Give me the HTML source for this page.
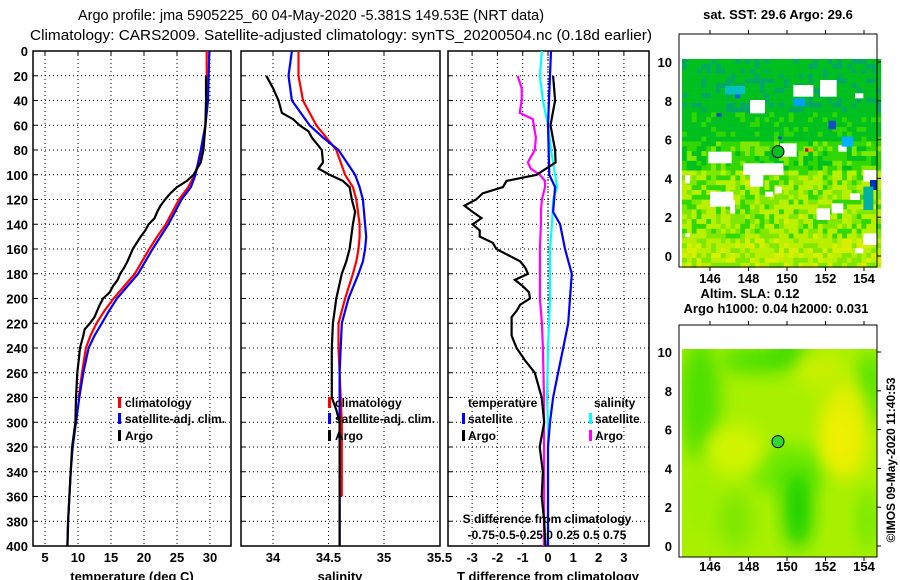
<!DOCTYPE html>
<html><head><meta charset="utf-8"><style>
html,body{margin:0;padding:0;background:#fff;}
svg{display:block;font-family:"Liberation Sans",sans-serif;}
.t{font-weight:bold;font-size:13px;fill:#000;}
.s{font-weight:bold;font-size:12px;fill:#000;}
</style></head><body>
<svg id="fig" width="900" height="580" viewBox="0 0 900 580" xmlns="http://www.w3.org/2000/svg">
<text x="311" y="20" text-anchor="middle" style="font-size:14.5px" textLength="466" lengthAdjust="spacingAndGlyphs">Argo profile: jma 5905225_60 04-May-2020 -5.381S 149.53E (NRT data)</text>
<text x="341" y="40" text-anchor="middle" style="font-size:14.5px" textLength="622" lengthAdjust="spacingAndGlyphs">Climatology: CARS2009. Satellite-adjusted climatology: synTS_20200504.nc (0.18d earlier)</text>
<g id="plots"></g>
<g id="maps"></g>
</svg>
<script>
// ---------- data ----------
const depthT = [0,20,40,60,80,100,110,120,130,140,150,160,170,180,190,200,210,220,230,240,260,280,300,320,340,360,380,400];
const tempClim = [29.5,29.5,29.5,29.3,28.8,27.7,26.7,25.3,24.3,23.3,22.0,20.8,19.7,18.6,17.0,15.4,14.0,12.8,11.9,11.2,10.6,10.1,9.7,9.2,8.9,8.7,8.5,8.4];
const tempSat  = [29.9,29.8,29.7,29.3,28.6,27.8,27.1,25.7,24.7,23.7,22.5,21.3,20.2,19.1,17.5,15.9,14.7,13.6,12.5,11.6,10.8,10.2,9.7,9.2,8.9,8.7,8.5,8.4];
const depthA = [20,40,60,80,90,100,105,110,115,120,125,130,135,140,145,150,155,160,170,175,180,185,190,195,200,205,210,215,220,225,230,240,250,260,280,300,320,340,360,380,400];
const tempArgo = [29.4,29.4,29.3,29.0,28.6,27.5,26.5,25.0,24.0,23.2,22.5,22.0,21.6,20.7,20.2,19.5,18.9,18.3,17.5,17.0,16.4,16.0,15.3,14.8,13.8,13.3,12.9,12.5,11.8,11.0,10.8,10.3,10.1,9.9,9.7,9.6,9.1,8.9,8.7,8.5,8.4];
const depthS = [0,20,40,60,70,80,100,110,120,140,150,160,170,180,200,220,240,260,300,360,400];
const salClim = [34.23,34.23,34.27,34.39,34.48,34.57,34.65,34.72,34.75,34.78,34.78,34.77,34.75,34.72,34.65,34.59,34.59,34.60,34.62,34.62,34.62];
const salSat  = [34.17,34.14,34.17,34.33,34.45,34.59,34.74,34.78,34.81,34.83,34.84,34.83,34.81,34.77,34.68,34.62,34.61,34.60,34.60,34.60,34.60];
const depthSA = [20,30,40,50,55,60,65,70,80,90,95,100,105,110,120,130,140,160,170,180,200,220,240,280,290,300,400];
const salArgo = [33.94,34.00,34.05,34.08,34.18,34.24,34.32,34.35,34.44,34.45,34.41,34.51,34.63,34.69,34.71,34.74,34.72,34.69,34.66,34.62,34.57,34.54,34.53,34.53,34.57,34.60,34.60];
const dTsatDepth = [0,20,60,100,110,130,140,160,180,200,220,240,260,280,300,320,400];
const dTsat = [0.12,0.08,0.0,0.05,0.28,0.2,0.48,0.67,0.94,0.87,0.8,0.6,0.4,0.2,0.08,0.0,0.0];
const dTargo = [0.2,0.28,0.1,0.28,0.3,-0.45,-1.64,-1.78,-2.58,-2.84,-3.3,-2.98,-2.63,-2.98,-2.7,-2.7,-2.18,-2.04,-1.1,-0.9,-0.79,-1.31,-1.0,-0.75,-0.71,-1.1,-1.24,-1.44,-1.44,-1.44,-1.44,-1.24,-0.91,-0.52,-0.25,-0.15,-0.33,-0.2,-0.25,-0.15,-0.1];
const dSsatDepth = [0,20,40,60,80,100,110,120,140,160,200,240,280,300,400];
const dSsat = [-0.06,-0.08,-0.05,0,0.03,0.07,0.09,0.05,0.04,0.02,0.02,0.0,-0.01,0.0,0.0];
const dSargo = [-0.3,-0.26,-0.26,-0.28,-0.15,-0.14,-0.13,-0.12,-0.13,-0.2,-0.17,-0.08,-0.03,-0.03,-0.06,-0.07,-0.07,-0.08,-0.08,-0.08,-0.08,-0.06,-0.05,-0.04,-0.04,-0.04,-0.04];
const depthTicks = [0,20,40,60,80,100,120,140,160,180,200,220,240,260,280,300,320,340,360,380,400];
const tTicks = [5,10,15,20,25,30];
const sTicks = [34,34.5,35,35.5];
const dTicks = [-3,-2,-1,0,1,2,3];

const NS='http://www.w3.org/2000/svg';
function mk(tag,attrs,parent){const e=document.createElementNS(NS,tag);for(const k in attrs)e.setAttribute(k,attrs[k]);parent.appendChild(e);return e;}
const plots=document.getElementById('plots');
const Y0=51,Y1=546;
const y=d=>Y0+d*(Y1-Y0)/400;
const xT=v=>45+(v-5)*6.6;
const xS=v=>273+(v-34)*111;
const xD=v=>548+v*25.3;
const xDS=v=>548+v*4*25.3;

function panel(x0,x1,name,xticks,xf,labels){
  const g=mk('g',{},plots);
  
  
  depthTicks.forEach(d=>{if(d>0&&d<400){const l=mk('line',{x1:x0,x2:x1,y1:y(d),y2:y(d),stroke:'#000','stroke-width':1,'stroke-dasharray':'1 3'},g);
  
  }
  const tk=mk('line',{x1:x0,x2:x0+4,y1:y(d),y2:y(d),stroke:'#000'},g);
  
  });
  xticks.forEach((v,i)=>{const xx=xf(v);if(xx>x0+1&&xx<x1-1){const l=mk('line',{x1:xx,x2:xx,y1:Y0,y2:Y1,stroke:'#000','stroke-dasharray':'1 3'},g);
  
  
  mk('line',{x1:xx,x2:xx,y1:Y0,y2:Y0+4,stroke:'#000'},g);}
  const t=mk('text',{x:xx,y:562,'text-anchor':'middle',class:'t'},g);t.textContent=labels?labels[i]:v;
  
  });
  const r=mk('rect',{x:x0,y:Y0,width:x1-x0,height:Y1-Y0,fill:'none',stroke:'#000','stroke-width':1.5},g);
  
  
  return g;
}
function line(g,ds,vs,xf,color,name){
  const pts=ds.map((d,i)=>xf(vs[i]).toFixed(1)+','+y(d).toFixed(1)).join(' ');
  const p=mk('polyline',{points:pts,fill:'none',stroke:color,'stroke-width':2.2},g);
  
  
}
function txt(g,x,yy,s,cls,name,anchor){const t=mk('text',{x:x,y:yy,class:cls||'s','text-anchor':anchor||'start'},g);t.textContent=s;

return t;}
function legBar(g,x,yy,c){const r=mk('rect',{x:x,y:yy-10,width:3,height:11,fill:c},g);

}

// y labels
depthTicks.forEach(d=>{txt(plots,28,y(d)+5,String(d),'t','y-tick-label','end');});

// panel 1
const g1=panel(33,231,'temperature-panel',tTicks,xT);
const tfil=depthT.filter(d=>d<=290);
line(g1,tfil,tempClim.slice(0,tfil.length),xT,'#f00','climatology-temp-line');
line(g1,depthT,tempSat,xT,'#00f','satellite-temp-line');
line(g1,depthA,tempArgo,xT,'#000','argo-temp-line');
txt(g1,132,581,'temperature (deg C)','t','x-axis-title','middle');
[['#f00','climatology',407],['#00f','satellite-adj. clim.',423],['#000','Argo',440]].forEach(a=>{legBar(g1,118,a[2],a[0]);txt(g1,125,a[2],a[1],'s','legend-entry');});

// panel 2
const g2=panel(241,440,'salinity-panel',sTicks,xS,['34','34.5','35','35.5']);
const sfil=depthS.filter(d=>d<=360);
line(g2,sfil,salClim.slice(0,sfil.length),xS,'#f00','climatology-salinity-line');
line(g2,depthS,salSat,xS,'#00f','satellite-salinity-line');
line(g2,depthSA,salArgo,xS,'#000','argo-salinity-line');
txt(g2,340,581,'salinity','t','x-axis-title','middle');
[['#f00','climatology',407],['#00f','satellite-adj. clim.',423],['#000','Argo',440]].forEach(a=>{legBar(g2,328,a[2],a[0]);txt(g2,335,a[2],a[1],'s','legend-entry');});

// panel 3
const g3=panel(448,649,'difference-panel',dTicks,xD);
mk('line',{x1:548,x2:548,y1:Y0,y2:Y1,stroke:'#000','stroke-dasharray':'1 2'},g3);
line(g3,depthSA,dSargo,xDS,'#f0f','argo-salinity-diff-line');
line(g3,dSsatDepth,dSsat,xDS,'#0ff','satellite-salinity-diff-line');
line(g3,dTsatDepth,dTsat,xD,'#00f','satellite-temp-diff-line');
line(g3,depthA,dTargo,xD,'#000','argo-temp-diff-line');
txt(g3,548,581,'T difference from climatology','t','x-axis-title','middle');
txt(g3,468,407,'temperature','s','legend-title');
txt(g3,594,407,'salinity','s','legend-title');
legBar(g3,462,423,'#00f');txt(g3,468,423,'satellite','s','legend-entry');
legBar(g3,462,440,'#000');txt(g3,468,440,'Argo','s','legend-entry');
legBar(g3,589,423,'#0ff');txt(g3,595,423,'satellite','s','legend-entry');
legBar(g3,589,440,'#f0f');txt(g3,595,440,'Argo','s','legend-entry');
txt(g3,547,523,'S difference from climatology','s','s-axis-title','middle');
txt(g3,547,539,'-0.75-0.5-0.25  0   0.25 0.5 0.75','s','s-axis-labels','middle').setAttribute('xml:space','preserve');

// ---------- maps ----------
const maps=document.getElementById('maps');
const lonTicks=[146,148,150,152,154];
const latTicks=[0,2,4,6,8,10];
const mx=l=>710+(l-146)*19.25;
function mapFrame(lat0y,name){
  const g=mk('g',{},maps);
  
  
  const my=la=>lat0y-la*19.4;
  return {g,my};
}
function hash(i,j){let h=(i*374761393+j*668265263)>>>0;h=((h^(h>>>13))*1274126177)>>>0;return (h&1023)/1023;}
const pal=[[0,'#0050d0'],[0.12,'#00b0e0'],[0.2,'#00a860'],[0.27,'#00c020'],[0.4,'#30d800'],[0.5,'#80e800'],[0.6,'#b8f000'],[0.7,'#d8f000'],[0.8,'#f0d800'],[0.9,'#f0a000']];
function col(v){let c=pal[0][1];for(const p of pal)if(v>=p[0])c=p[1];return c;}

// top map
const A=mapFrame(256,'sst-map');
(function(){
  const g=A.g,my=A.my;
  const cell=4.85;
  for(let i=0;i<41;i++)for(let j=0;j<43;j++){
    const x=682+i*cell,yy=59+j*cell;const lat=(256-yy)/19.4;
    let b=lat>7.5?0.31:lat>6?0.36:lat>4.5?0.47:lat>1?0.6:0.68;
    const amp=lat>6?0.16:0.26;
    const v=b+(hash(i,j)-0.5)*amp;
    mk('rect',{x:x.toFixed(2),y:yy.toFixed(2),width:cell+0.3,height:cell+0.3,fill:col(v)},g);
  }
  const whites=[[430,255,60,35],[510,240,50,50],[300,300,45,40],[615,280,25,15],[390,430,50,40],[175,455,70,35],[280,490,120,35],[300,520,40,40],[105,525,15,25],[180,575,70,45],[345,575,25,15],[240,600,15,40],[375,560,20,20],[500,625,40,35],[600,580,30,20],[640,510,40,35],[545,610,35,30],[565,435,25,20],[640,700,40,35],[615,745,25,15],[105,700,15,10]];
  whites.forEach(w=>{const r=mk('rect',{x:w[0]/3+650,y:w[1]/3,width:w[2]/3,height:w[3]/3,fill:'#fff'},g);
  
  });
  const spots=[[255,280,15,15,'#2060e0'],[535,362,23,26,'#1050c0'],[660,540,20,30,'#0030c0'],[430,295,35,23,'#00a0ff'],[225,258,60,25,'#00c0c0'],[640,560,30,70,'#00b0a0'],[575,410,35,30,'#00b0ff'],[200,340,15,10,'#1040c0'],[385,410,10,8,'#1040d0'],[465,445,10,10,'#c01000'],[475,445,15,10,'#ffa000']];
  spots.forEach(w=>mk('rect',{x:w[0]/3+650,y:w[1]/3,width:w[2]/3,height:w[3]/3,fill:w[4]},g));
  const c=mk('circle',{cx:mx(149.53),cy:my(5.38),r:6,fill:'#00c020',stroke:'#000','stroke-width':1},g);
  
  
  axes(g,34,267,my,283);
  txt(g,778,19,'sat. SST: 29.6 Argo: 29.6','t','map-title','middle');
})();

// bottom map
const B=mapFrame(546,'sla-map');
(function(){
  const g=B.g,my=B.my;
  const defs=mk('defs',{},g);
  const f=mk('filter',{id:'bl',x:'-50%',y:'-50%',width:'200%',height:'200%'},defs);
  mk('feGaussianBlur',{stdDeviation:9},f);
  const cp=mk('clipPath',{id:'cp'},defs);
  mk('rect',{x:682,y:349,width:195,height:208},cp);
  const inner=mk('g',{'clip-path':'url(#cp)'},g);
  mk('rect',{x:682,y:349,width:195,height:208,fill:'#a8f000'},inner);
  const blobs=[[700,400,20,60,'#50e000'],[760,360,40,14,'#50e000'],[790,352,20,10,'#30d800'],[870,390,10,40,'#40e000'],[788,470,40,25,'#6ae800'],[798,510,14,38,'#18d000'],[735,520,18,30,'#80e800'],[845,430,25,50,'#e0f000'],[840,440,15,30,'#f0f000'],[735,450,30,25,'#d0f400'],[700,500,10,30,'#98f000'],[868,520,10,30,'#70e800'],[820,370,25,18,'#c8f000']];
  blobs.forEach(b=>mk('ellipse',{cx:b[0],cy:b[1],rx:b[2],ry:b[3],fill:b[4],filter:'url(#bl)'},inner));
  const c=mk('circle',{cx:mx(149.53),cy:my(5.38),r:6,fill:'#30d830',stroke:'#000','stroke-width':1},g);
  
  
  axes(g,325,557,my,571);
  txt(g,750,298,'Altim. SLA: 0.12','t','sla-title','middle');
  txt(g,776,313,'Argo h1000: 0.04 h2000: 0.031','t','argo-height-title','middle');
})();
function axes(g,top,bottom,my,ly){
  const r=mk('rect',{x:679,y:top,width:198,height:bottom-top,fill:'none',stroke:'#000','stroke-width':1},g);
  
  
  lonTicks.forEach(l=>{const xx=mx(l);mk('line',{x1:xx,x2:xx,y1:top,y2:top-4,stroke:'#000'},g);mk('line',{x1:xx,x2:xx,y1:bottom,y2:bottom+4,stroke:'#000'},g);
  txt(g,xx,ly,String(l),'t','lon-tick-label','middle');});
  latTicks.forEach(la=>{const yy=my(la);mk('line',{x1:877,x2:881,y1:yy,y2:yy,stroke:'#000'},g);
  txt(g,672,yy+5,String(la),'t','lat-tick-label','end');});
}
const cr=mk('text',{x:0,y:0,class:'s',transform:'translate(895,460) rotate(-90)','text-anchor':'middle'},maps);
cr.textContent='©IMOS 09-May-2020 11:40:53';


</script>
</body></html>
